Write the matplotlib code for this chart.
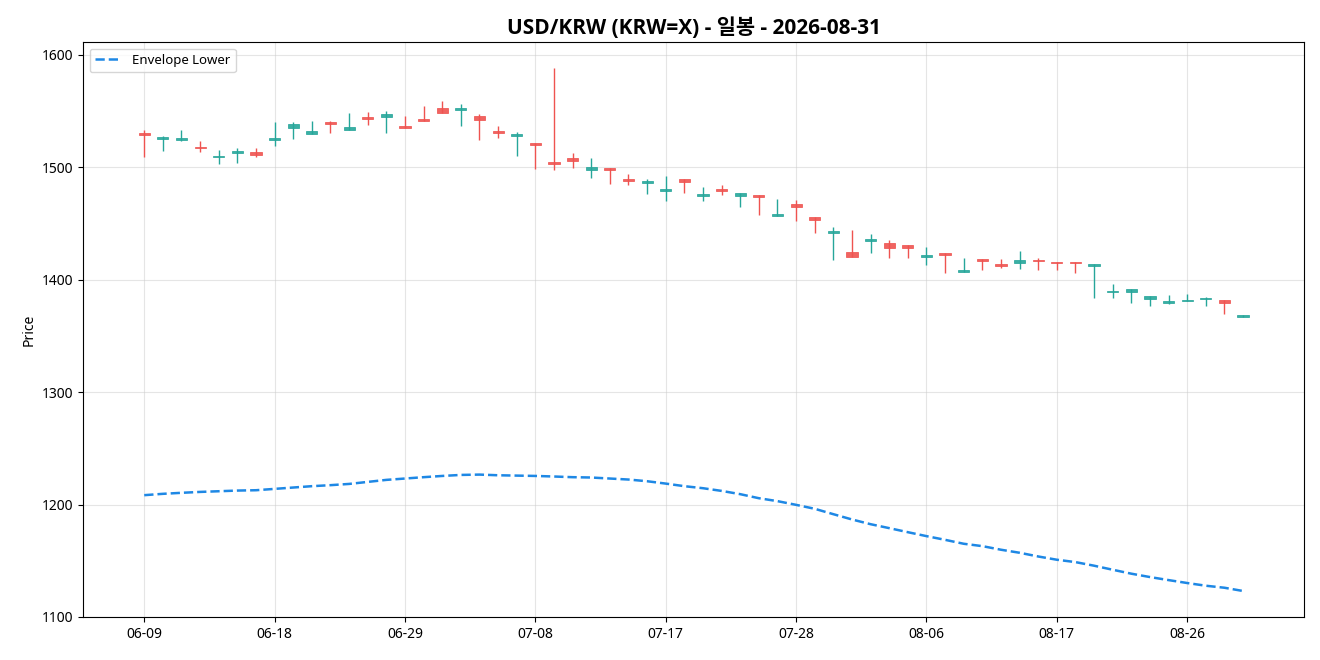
import numpy as np
import pandas as pd
import matplotlib
matplotlib.use('Agg')
import matplotlib.pyplot as plt

plt.rcParams['font.family'] = ['Noto Sans', 'Noto Sans CJK KR', 'DejaVu Sans']

# daily candles
opens = [1530.3, 1525.0, 1523.8, 1518.1, 1508.6, 1512.5, 1513.4, 1523.8, 1534.8, 1529.1,
         1540.4, 1532.7, 1544.2, 1544.2, 1536.8, 1542.8, 1552.5, 1550.5, 1545.7, 1532.4,
         1527.3, 1521.7, 1504.8, 1508.4, 1497.1, 1498.9, 1489.7, 1485.5, 1478.4, 1489.1,
         1474.0, 1480.8, 1474.0, 1475.4, 1456.8, 1467.4, 1455.6, 1441.0, 1424.7, 1434.5,
         1432.7, 1430.7, 1419.7, 1423.8, 1406.3, 1418.5, 1413.5, 1414.4, 1417.6, 1415.8,
         1415.8, 1411.7, 1388.5, 1388.5, 1382.3, 1378.8, 1380.5, 1382.3, 1382.0, 1366.3]
closes = [1528.6, 1526.7, 1525.8, 1516.7, 1510.1, 1514.3, 1510.7, 1525.8, 1538.6, 1532.4,
          1538.3, 1536.0, 1542.5, 1547.5, 1534.8, 1540.7, 1547.8, 1552.5, 1541.6, 1530.0,
          1529.7, 1519.3, 1502.4, 1505.1, 1499.7, 1497.1, 1487.3, 1487.3, 1480.2, 1486.4,
          1475.7, 1479.0, 1476.6, 1473.1, 1458.5, 1464.2, 1452.6, 1443.1, 1419.7, 1436.3,
          1427.7, 1427.7, 1422.0, 1421.5, 1408.1, 1416.7, 1411.7, 1417.6, 1416.1, 1414.4,
          1414.4, 1414.0, 1390.0, 1391.8, 1385.6, 1381.1, 1382.0, 1383.8, 1379.6, 1368.7]
highs = [1533.3, 1527.9, 1533.3, 1523.5, 1515.5, 1517.3, 1517.3, 1540.4, 1540.4, 1541.3,
         1541.3, 1548.4, 1549.3, 1550.2, 1545.7, 1554.6, 1559.1, 1556.4, 1547.5, 1536.8,
         1531.5, 1521.7, 1587.8, 1512.8, 1508.4, 1498.9, 1494.1, 1489.1, 1491.7, 1489.1,
         1482.0, 1484.3, 1477.2, 1475.4, 1471.9, 1471.0, 1455.6, 1447.0, 1444.3, 1440.7,
         1435.4, 1430.7, 1429.2, 1423.8, 1419.4, 1418.5, 1418.5, 1425.6, 1419.4, 1415.8,
         1415.8, 1414.0, 1396.3, 1391.8, 1385.6, 1386.5, 1387.4, 1384.7, 1382.0, 1368.7]
lows = [1508.6, 1514.0, 1522.9, 1513.1, 1502.4, 1503.3, 1508.6, 1518.4, 1524.7, 1529.1,
        1530.6, 1532.7, 1537.1, 1530.6, 1534.8, 1540.7, 1547.8, 1536.2, 1524.4, 1525.6,
        1509.5, 1498.0, 1497.1, 1498.9, 1490.0, 1484.6, 1483.7, 1475.7, 1469.5, 1476.6,
        1469.5, 1474.9, 1464.2, 1457.1, 1456.8, 1451.7, 1441.0, 1417.0, 1419.7, 1423.8,
        1419.4, 1419.4, 1413.2, 1405.4, 1406.3, 1408.1, 1409.9, 1409.0, 1408.1, 1408.1,
        1406.0, 1383.2, 1383.2, 1378.8, 1376.1, 1377.9, 1380.5, 1376.1, 1369.0, 1366.3]
env_lower = [1208.3, 1209.5, 1210.4, 1211.2, 1211.8, 1212.4, 1212.7, 1213.9, 1215.1, 1216.3,
             1217.2, 1218.3, 1220.1, 1221.9, 1223.1, 1224.3, 1225.4, 1226.3, 1226.6, 1226.0,
             1225.7, 1225.4, 1224.9, 1224.3, 1224.0, 1223.1, 1222.2, 1220.7, 1218.6, 1216.3,
             1214.5, 1212.1, 1209.2, 1205.6, 1203.0, 1199.7, 1196.2, 1191.4, 1186.7, 1182.5,
             1179.0, 1175.4, 1171.9, 1168.6, 1165.1, 1163.0, 1159.8, 1157.1, 1153.8, 1150.9,
             1148.8, 1145.6, 1142.0, 1138.5, 1135.5, 1132.8, 1130.2, 1127.8, 1126.0, 1123.1]

dates = pd.bdate_range('2026-06-09', periods=len(opens))

UP = '#26a69a'
DOWN = '#ef5350'

o = np.array(opens)
c = np.array(closes)
h = np.array(highs)
l = np.array(lows)
x = np.arange(len(o))
cols = np.where(c >= o, UP, DOWN)

fig = plt.figure(figsize=(13.2, 6.6), dpi=100)
ax = fig.add_axes([0.063, 0.065, 0.925, 0.871])

ax.vlines(x, l, h, colors=cols, linewidth=1)
body_h = np.maximum(np.abs(c - o), 0.6)
ax.bar(x, body_h, bottom=np.minimum(o, c), width=0.6, color=cols,
       edgecolor=cols, linewidth=0.6, alpha=0.9)

ax.plot(x, env_lower, '--', color='#1e88e5', linewidth=1.8, label='Envelope Lower')

ax.set_xlim(-3.28, 62.28)
ax.set_ylim(1099.9, 1611.0)
ticks = x[::7]
ax.set_xticks(ticks)
ax.set_xticklabels([dates[i].strftime('%m-%d') for i in ticks], fontsize=10)
ax.set_yticks(np.arange(1100, 1601, 100))
ax.tick_params(axis='y', labelsize=10)
ax.grid(True, color='#cccccc', alpha=0.5, linewidth=0.8)
ax.set_axisbelow(True)
ax.set_ylabel('Price', fontsize=10)
ax.set_title('USD/KRW (KRW=X) - 일봉 - 2026-08-31', fontsize=15, fontweight='bold',
             family=['Open Sans', 'Noto Sans CJK KR'])
ax.legend(loc='upper left', fontsize=9.5)

fig.savefig('out.png', dpi=100)
